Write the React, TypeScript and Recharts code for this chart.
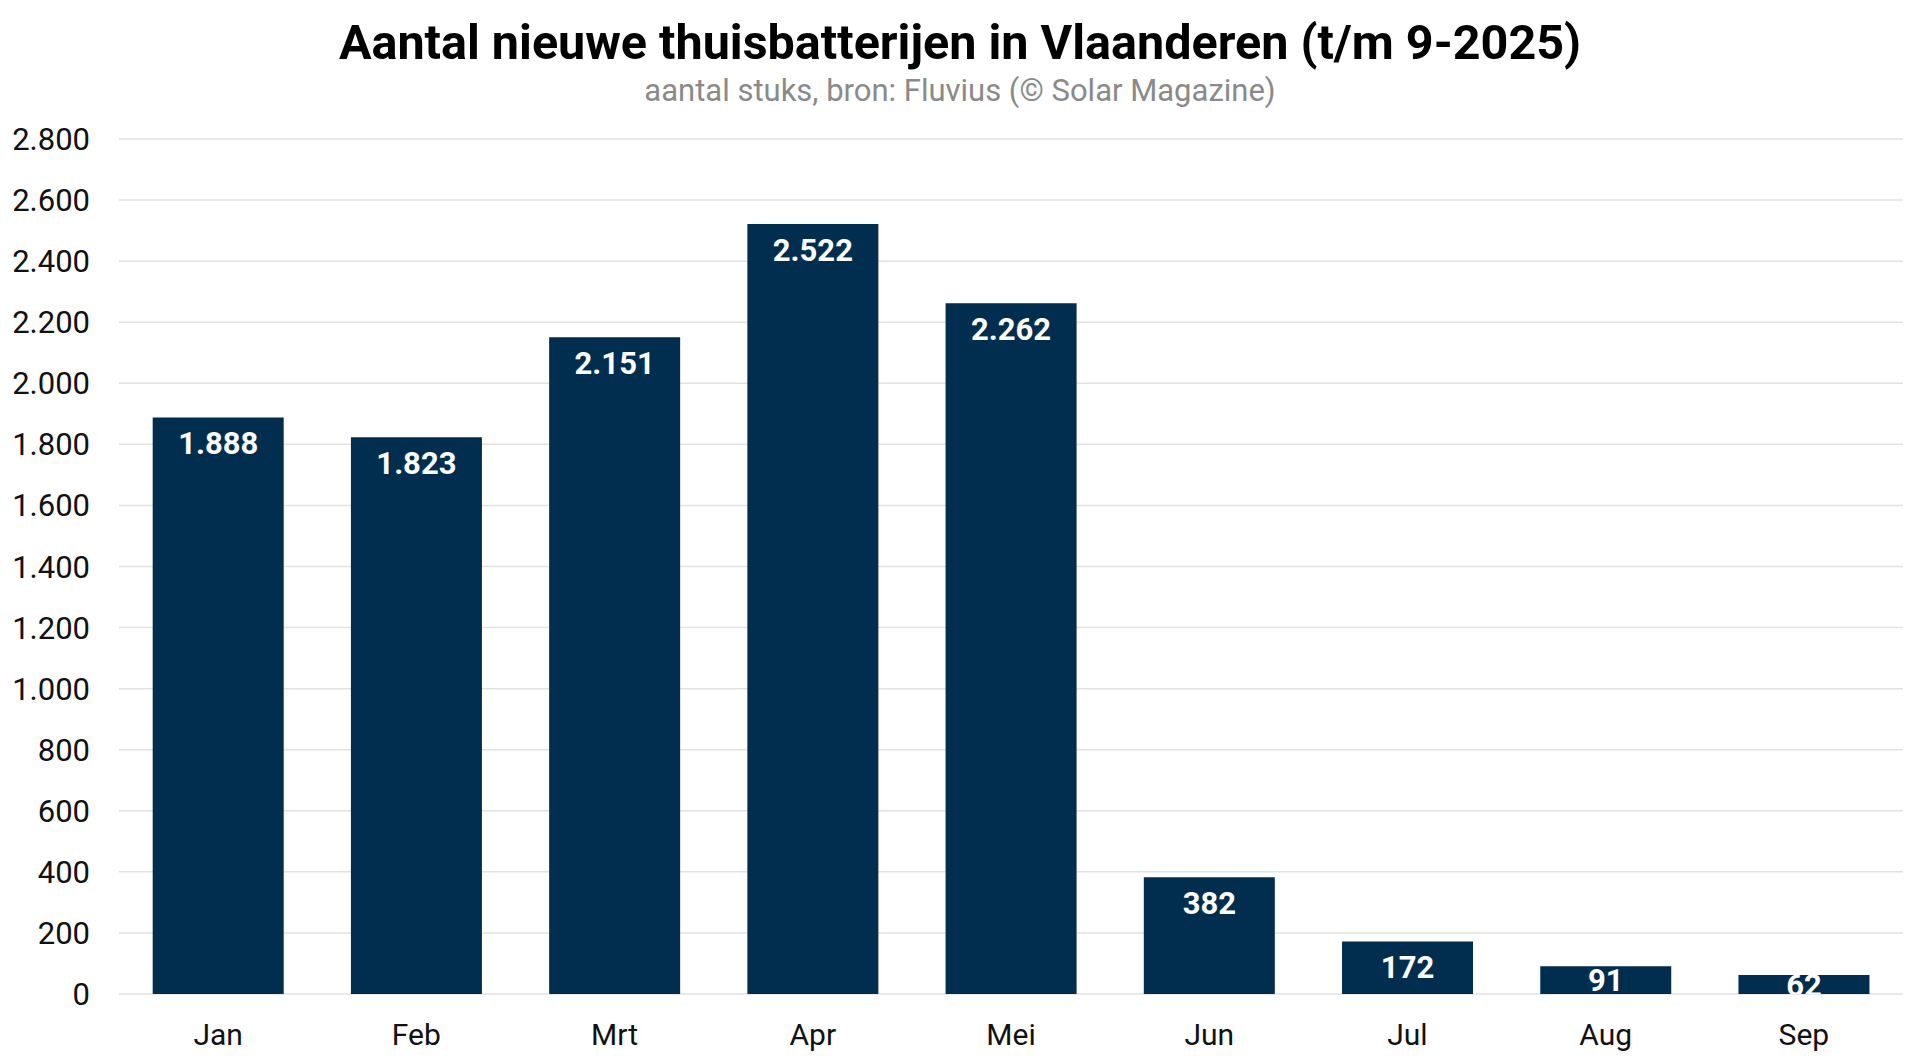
import { Bar, BarChart, CartesianGrid, LabelList, XAxis, YAxis } from "recharts";

const months = ["Jan", "Feb", "Mrt", "Apr", "Mei", "Jun", "Jul", "Aug", "Sep"];
const batteries = [1888, 1823, 2151, 2522, 2262, 382, 172, 91, 62];
const yTicks = [0, 200, 400, 600, 800, 1000, 1200, 1400, 1600, 1800, 2000, 2200, 2400, 2600, 2800];

const data = months.map((month, i) => ({ month, value: batteries[i] }));

const dotted = (value: number) => String(value).replace(/\B(?=(\d{3})+(?!\d))/g, ".");

const font = "Roboto, 'Noto Sans', sans-serif";

// white value inside the top of the bar; on very short bars it sits in the middle and is clipped to the bar
function ValueLabel(props: any) {
  const { x, y, width, height, value, index } = props;
  const cx = Number(x) + Number(width) / 2;
  const cy = Math.min(Number(y) + 26, Number(y) + Number(height) / 2);
  const id = `bar-clip-${index}`;
  return (
    <g>
      <defs>
        <clipPath id={id}>
          <rect x={x} y={y} width={width} height={height} />
        </clipPath>
      </defs>
      <text
        x={cx}
        y={cy + 11}
        textAnchor="middle"
        clipPath={`url(#${id})`}
        style={{ fill: "#fff", fontSize: 31, fontWeight: 700, fontFamily: font }}
      >
        {dotted(Number(value))}
      </text>
    </g>
  );
}

export default function App() {
  return (
    <div style={{ position: "fixed", left: 0, top: 0, width: 1920, height: 1064, background: "#fff", fontFamily: font }}>
      <div style={{ position: "absolute", top: 14, width: 1920, textAlign: "center", fontSize: 48.5, fontWeight: 700, color: "#000", lineHeight: "58px" }}>
        Aantal nieuwe thuisbatterijen in Vlaanderen (t/m 9-2025)
      </div>
      <div style={{ position: "absolute", top: 72, width: 1920, textAlign: "center", fontSize: 31, color: "#8a8a8a", lineHeight: "38px" }}>
        aantal stuks, bron: Fluvius (© Solar Magazine)
      </div>
      <BarChart width={1920} height={1064} data={data} margin={{ top: 139, right: 17, bottom: 0, left: 0 }} barCategoryGap="17%">
        <CartesianGrid vertical={false} stroke="#e2e2e2" strokeWidth={1.5} />
        <XAxis
          dataKey="month"
          height={70}
          axisLine={false}
          tickLine={false}
          tickSize={0}
          tickMargin={30}
          tick={{ fontSize: 30, fill: "#111", fontFamily: font }}
        />
        <YAxis
          width={119}
          domain={[0, 2800]}
          ticks={yTicks}
          interval={0}
          axisLine={false}
          tickLine={false}
          tickSize={0}
          tickMargin={29}
          tickFormatter={dotted}
          tick={{ fontSize: 31, fill: "#111", fontFamily: font }}
        />
        <Bar dataKey="value" fill="#012d4f" isAnimationActive={false}>
          <LabelList dataKey="value" content={ValueLabel} />
        </Bar>
      </BarChart>
    </div>
  );
}
